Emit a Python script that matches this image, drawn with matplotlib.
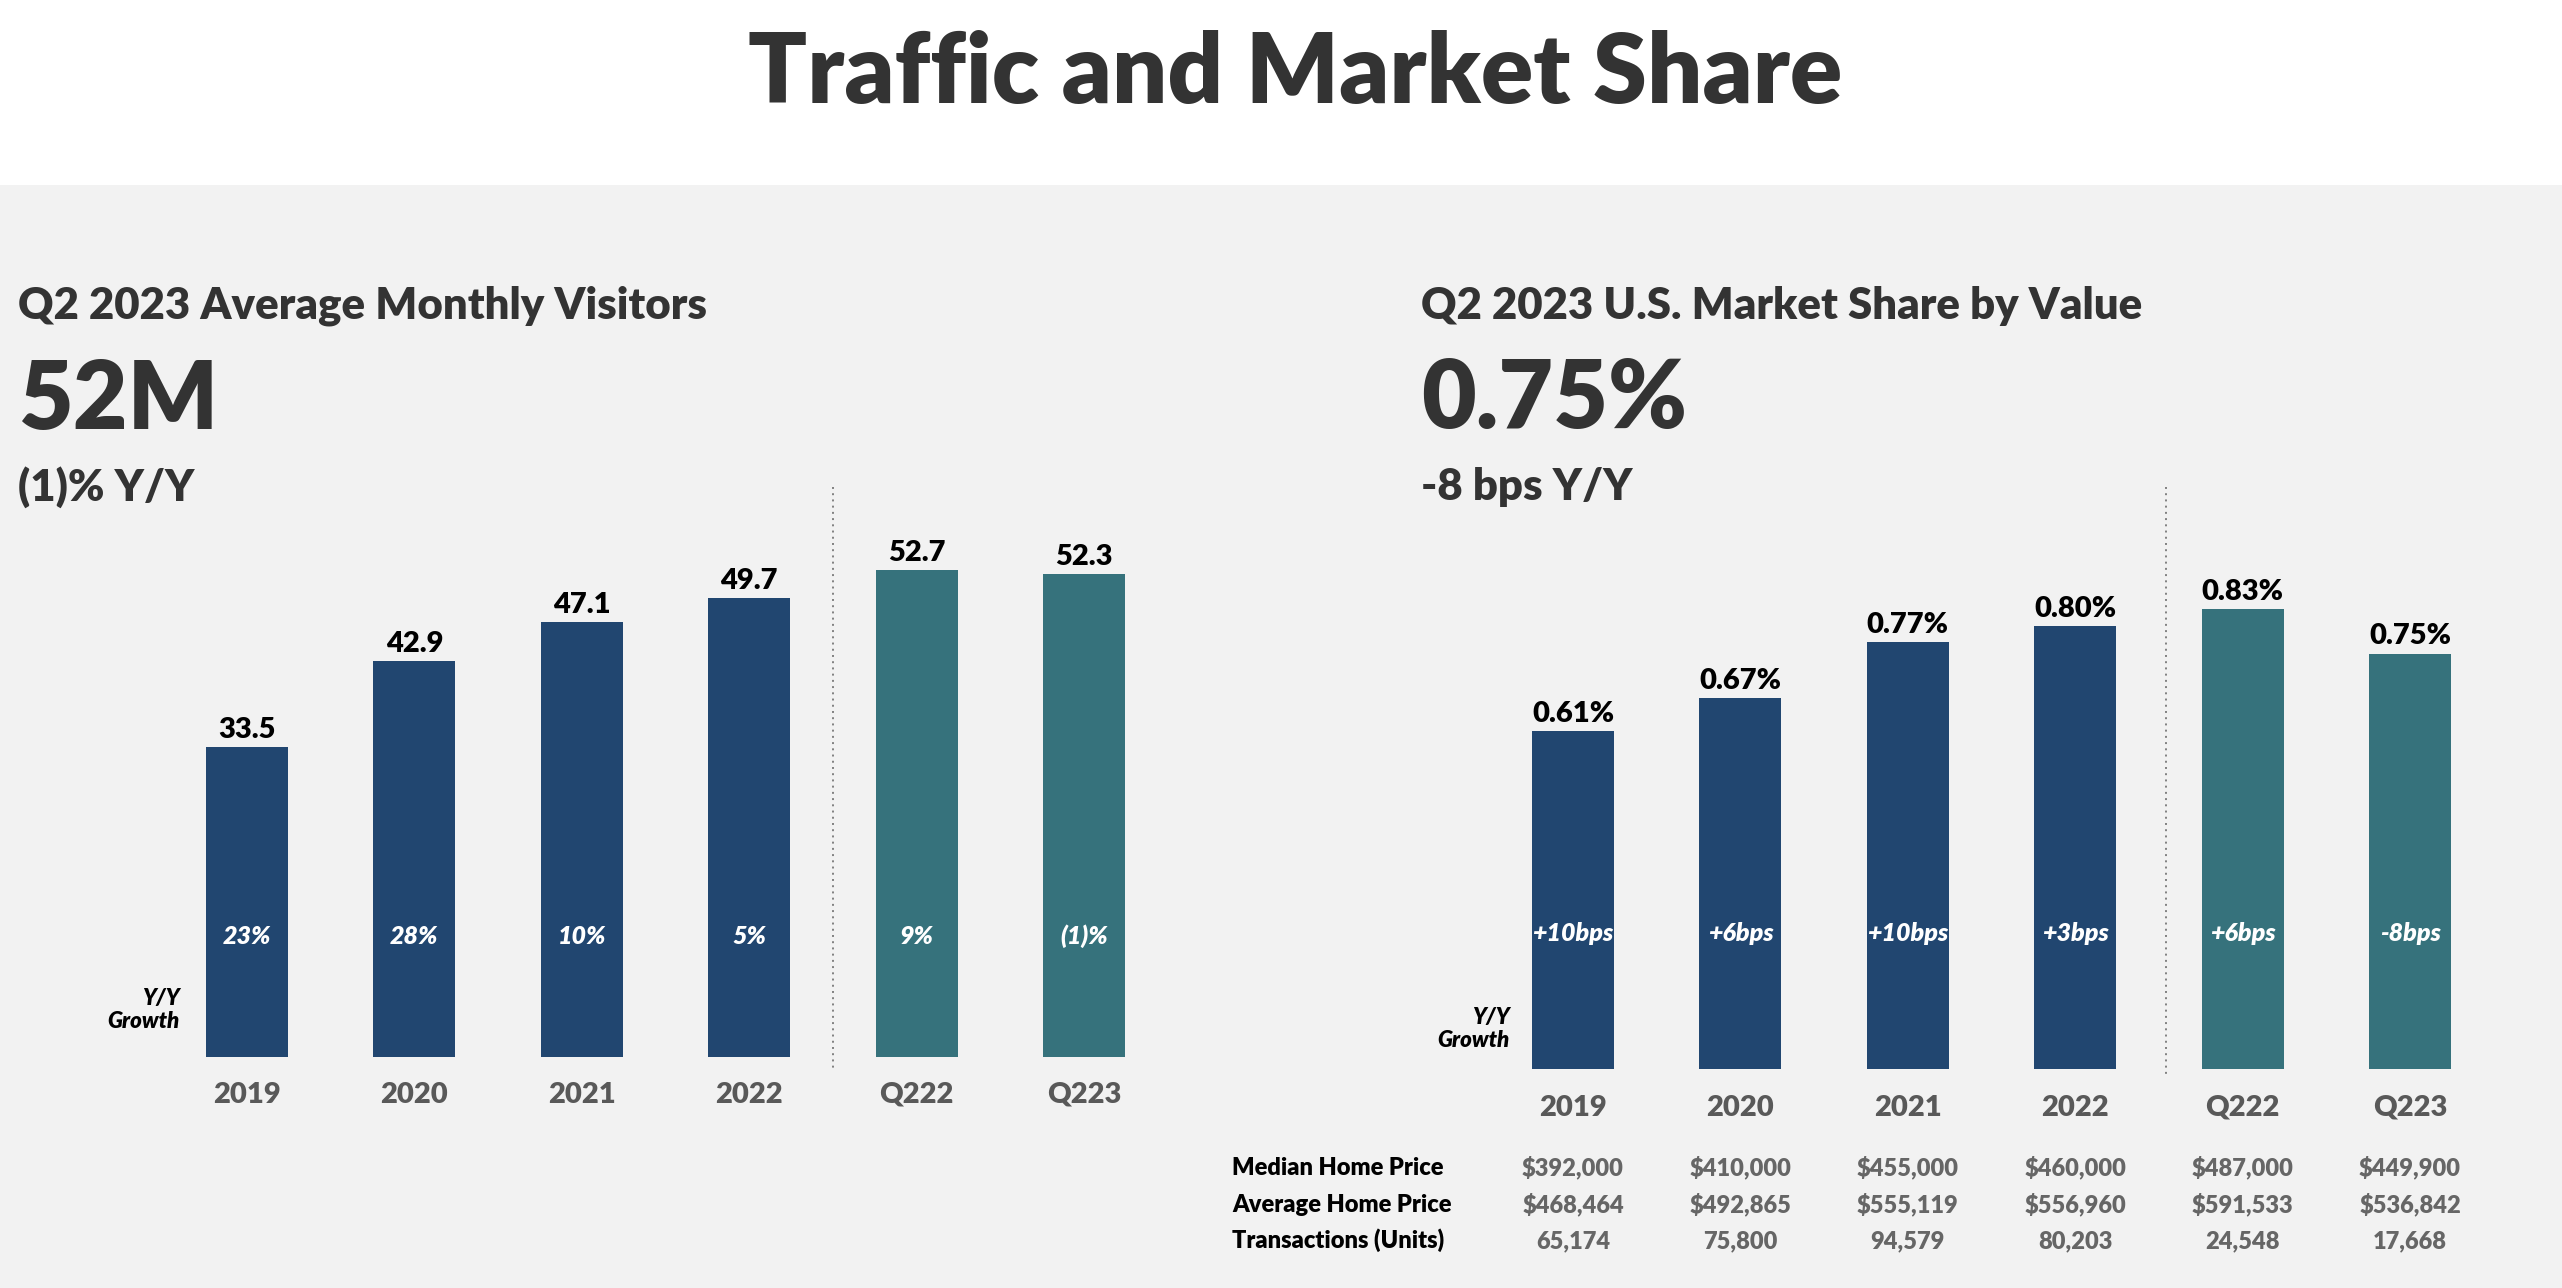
import matplotlib
matplotlib.use('Agg')
import matplotlib.pyplot as plt
from matplotlib import transforms
from matplotlib import font_manager as fm
from matplotlib.patches import Rectangle

plt.rcParams['font.family'] = ['Lato', 'DejaVu Sans']

# ---- data ----
periods = ['2019', '2020', '2021', '2022', 'Q222', 'Q223']
visitors = [33.5, 42.9, 47.1, 49.7, 52.7, 52.3]
visitor_labels = ['33.5', '42.9', '47.1', '49.7', '52.7', '52.3']
visitor_growth = ['23%', '28%', '10%', '5%', '9%', '(1)%']

share = [0.61, 0.67, 0.77, 0.80, 0.83, 0.75]
share_labels = ['0.61%', '0.67%', '0.77%', '0.80%', '0.83%', '0.75%']
share_growth = ['+10bps', '+6bps', '+10bps', '+3bps', '+6bps', '-8bps']

row_names = ['Median Home Price', 'Average Home Price', 'Transactions (Units)']
median_price = ['$392,000', '$410,000', '$455,000', '$460,000', '$487,000', '$449,900']
average_price = ['$468,464', '$492,865', '$555,119', '$556,960', '$591,533', '$536,842']
transactions = ['65,174', '75,800', '94,579', '80,203', '24,548', '17,668']

NAVY = '#214670'
TEAL = '#36727c'
DARK = '#333333'
GREY = '#595959'
bar_colors = [NAVY] * 4 + [TEAL] * 2


def _w(f):
    if isinstance(f.weight, (int, float)):
        return int(f.weight)
    return fm.weight_dict.get(f.weight, 400)


def fp(size, style='normal', weight=800):
    # pick the closest Lato face by file so heavier/italic cuts are really used
    faces = [f for f in fm.fontManager.ttflist
             if 'lato' in f.name.lower() and f.style == style]
    if faces:
        best = min(faces, key=lambda f: abs(_w(f) - weight))
        return fm.FontProperties(fname=best.fname, size=size)
    return fm.FontProperties(family='DejaVu Sans', style='oblique' if style != 'normal' else 'normal',
                             weight='bold', size=size)


W, H = 2562, 1288
fig = plt.figure(figsize=(W / 100, H / 100), dpi=100, facecolor='#f2f2f2')
# pixel coords, origin top-left
px = transforms.Affine2D().scale(1 / W, -1 / H).translate(0, 1) + fig.transFigure

fig.patches.append(Rectangle((0, 0), W, 185, transform=px, facecolor='white',
                             edgecolor='none', zorder=0))
fig.text(1295, 103, 'Traffic and Market Share', transform=px, ha='center',
         va='baseline', fontproperties=fp(70), color=DARK)


def make_axes(left_px, right_px, bottom_px, top_px, first_px, step_px, unit_px):
    ax = fig.add_axes([left_px / W, 1 - bottom_px / H,
                       (right_px - left_px) / W, (bottom_px - top_px) / H])
    ax.set_xlim((left_px - first_px) / step_px, (right_px - first_px) / step_px)
    ax.set_ylim(0, (bottom_px - top_px) / unit_px)
    ax.set_facecolor('none')
    for s in ax.spines.values():
        s.set_visible(False)
    ax.set_yticks([])
    return ax


def draw_panel(ax, values, labels, growth, inner_y, pad, sep_x, sep_y, yy_xy):
    x = range(len(values))
    ax.bar(x, values, width=0.49, color=bar_colors, zorder=2)
    mixed = transforms.blended_transform_factory(ax.transData, px)
    for xi, v, lab, g in zip(x, values, labels, growth):
        ax.annotate(lab, (xi, v), xytext=(0, 6.5), textcoords='offset points',
                    ha='center', va='baseline', fontproperties=fp(21), color='black')
        ax.text(xi, inner_y, g, transform=mixed, ha='center', va='baseline',
                fontproperties=fp(18, 'italic'), color='white', zorder=3)
    ax.set_xticks(list(x), periods, fontproperties=fp(21), color=GREY)
    ax.tick_params(axis='x', length=0, pad=pad)
    ax.plot([sep_x, sep_x], sep_y, transform=mixed,
            color='#808080', lw=1.4, linestyle=(0, (1, 2.2)), clip_on=False)
    fig.text(yy_xy[0], yy_xy[1], 'Y/Y\nGrowth', transform=px, ha='right', va='center',
             multialignment='right', fontproperties=fp(16, 'italic'),
             color='black', linespacing=1.1)


# ---- left panel: visitors ----
fig.text(18, 319, 'Q2 2023 Average Monthly Visitors', transform=px, va='baseline',
         fontproperties=fp(31.5), color=DARK)
fig.text(18, 429, '52M', transform=px, va='baseline', fontproperties=fp(68), color=DARK)
fig.text(18, 501, '(1)% Y/Y', transform=px, va='baseline', fontproperties=fp(31.5), color=DARK)

ax1 = make_axes(100, 1180, 1057, 480, 247, 167.4, 9.24)
draw_panel(ax1, visitors, visitor_labels, visitor_growth, inner_y=944, pad=18,
           sep_x=3.5, sep_y=[487, 1070], yy_xy=(180, 1010))

# ---- right panel: market share ----
fig.text(1421, 319, 'Q2 2023 U.S. Market Share by Value', transform=px, va='baseline',
         fontproperties=fp(31.5), color=DARK)
fig.text(1421, 428, '0.75%', transform=px, va='baseline', fontproperties=fp(68), color=DARK)
fig.text(1421, 500, '-8 bps Y/Y', transform=px, va='baseline', fontproperties=fp(31.5), color=DARK)

ax2 = make_axes(1450, 2540, 1069, 480, 1573, 167.4, 554)
draw_panel(ax2, share, share_labels, share_growth, inner_y=941, pad=18.5,
           sep_x=3.54, sep_y=[487, 1078], yy_xy=(1510, 1029))

# ---- table under right panel ----
row_base = [1175, 1212, 1248]
tbl = transforms.blended_transform_factory(ax2.transData, px)
for name, row, yb in zip(row_names, [median_price, average_price, transactions], row_base):
    fig.text(1232, yb, name, transform=px, va='baseline', fontproperties=fp(17), color='black')
    for xi, val in enumerate(row):
        ax2.text(xi, yb, val, transform=tbl, ha='center', va='baseline',
                 fontproperties=fp(17), color='#666666', clip_on=False)

fig.savefig('out.png', dpi=100, facecolor=fig.get_facecolor())
